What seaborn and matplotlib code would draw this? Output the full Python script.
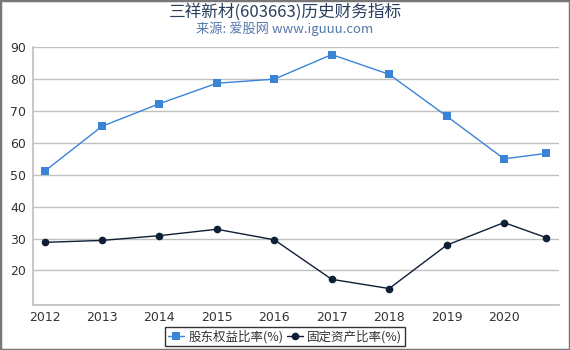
import matplotlib
matplotlib.use("Agg")
import matplotlib.pyplot as plt
import seaborn as sns
import pandas as pd

years = [2012, 2013, 2014, 2015, 2016, 2017, 2018, 2019, 2020, 2020.73]
equity_ratio = [51.1, 65.2, 72.3, 78.7, 80.0, 87.7, 81.5, 68.4, 55.0, 56.7]
fixed_ratio = [28.8, 29.4, 30.9, 32.9, 29.6, 17.2, 14.3, 27.9, 35.0, 30.3]
tick_years = [2012, 2013, 2014, 2015, 2016, 2017, 2018, 2019, 2020]
series_names = ["股东权益比率(%)", "固定资产比率(%)"]
title = "三祥新材(603663)历史财务指标"
subtitle = "来源: 爱股网 www.iguuu.com"

sns.set_theme(style="white")
plt.rcParams['font.family'] = ['Noto Sans CJK SC', 'DejaVu Sans']

df = pd.DataFrame({"year": years, series_names[0]: equity_ratio, series_names[1]: fixed_ratio})
long = df.melt(id_vars="year", var_name="series", value_name="value")

fig = plt.figure(figsize=(5.7, 3.5), dpi=100)
ax = fig.add_axes([0.058, 0.13, 0.922, 0.735])

palette = {series_names[0]: "#3a84d8", series_names[1]: "#0f1f36"}
sns.lineplot(data=long, x="year", y="value", hue="series", style="series",
             markers={series_names[0]: "s", series_names[1]: "o"}, dashes=False,
             palette=palette, linewidth=1.0, markersize=5.5, markeredgewidth=0,
             ax=ax, legend=True)

ax.set_ylim(9.3, 90)
ax.set_xlim(2011.8, 2020.95)
ax.set_yticks([20, 30, 40, 50, 60, 70, 80, 90])
ax.set_xticks(tick_years)
ax.set_xticklabels([str(y) for y in tick_years], family="DejaVu Sans")
ax.grid(axis="y", color="#c0c0c0", linewidth=1.0)
ax.set_axisbelow(True)
ax.set_xlabel("")
ax.set_ylabel("")
for s in ["top", "right"]:
    ax.spines[s].set_visible(False)
ax.spines["left"].set_color("#c0c0c0")
ax.spines["bottom"].set_color("#c0c0c0")
ax.tick_params(axis="both", labelsize=9, colors="#333333", color="#c0c0c0")
ax.tick_params(axis="x", length=4, pad=1)
ax.tick_params(axis="y", length=0, pad=5)
for lbl in ax.get_yticklabels():
    lbl.set_family("DejaVu Sans")

handles, labels = ax.get_legend_handles_labels()
ax.get_legend().remove()
leg = fig.legend(handles, labels, loc="upper center", bbox_to_anchor=(0.5, 0.085), ncol=2,
                 frameon=True, fontsize=9, handlelength=1.3, handletextpad=0.3,
                 columnspacing=0.3, borderpad=0.25, fancybox=False)
leg.get_frame().set_edgecolor("black")
leg.get_frame().set_linewidth(1.0)
for t in leg.get_texts():
    t.set_color("#333333")

fig.text(0.5, 0.965, title, ha="center", va="center", fontsize=12, color="#2a3f5f")
fig.text(0.5, 0.918, subtitle, ha="center", va="center", fontsize=9.5, color="#5577aa")

border = plt.Rectangle((0, 0), 1, 1, transform=fig.transFigure, fill=False,
                       edgecolor="#777777", linewidth=2.5)
fig.patches.append(border)

fig.savefig("out.png", dpi=100)
